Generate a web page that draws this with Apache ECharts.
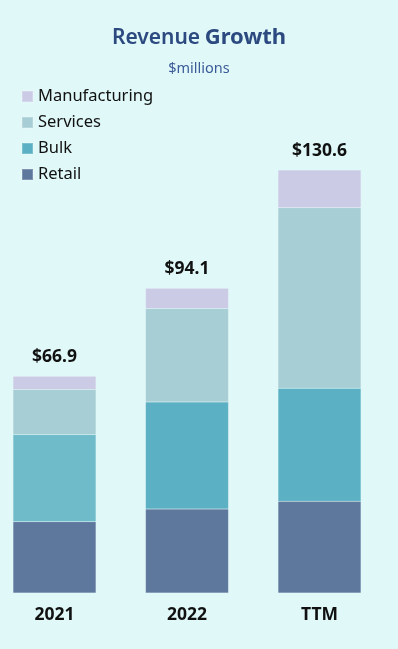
<!DOCTYPE html>
<html>
<head>
<meta charset="utf-8">
<script src="https://cdn.jsdelivr.net/npm/echarts@6/dist/echarts.min.js"></script>
<style>
  html, body { margin: 0; padding: 0; background: #e0f8f8; }
  #main { width: 398px; height: 649px; }
</style>
</head>
<body>
<div id="main"></div>
<script>
// data
const years = ["2021", "2022", "TTM"];
const retail = [22.0, 25.9, 28.3];
const bulk = [26.9, 33.1, 34.9];
const services = [13.9, 28.8, 55.7];
const manufacturing = [4.1, 6.3, 11.7];
const totals = [66.9, 94.1, 130.6];
const legendNames = ["Manufacturing", "Services", "Bulk", "Retail"];

const font = "Noto Sans";
let myChart = echarts.init(document.getElementById("main"));

const segBorder = { borderColor: "rgba(255,255,255,0.2)", borderWidth: 0.5 };

let option = {
  backgroundColor: "#e0f8f8",
  textStyle: { fontFamily: font },
  title: {
    text: "{a|Revenue} {b|Growth}",
    subtext: "$millions",
    left: "center",
    top: 22,
    itemGap: 12,
    textStyle: {
      rich: {
        a: { fontFamily: font, fontSize: 21, fontWeight: 600, color: "#2c4a80" },
        b: { fontFamily: font, fontSize: 22, fontWeight: "bold", color: "#2c4a80" },
      },
    },
    subtextStyle: { fontFamily: font, fontSize: 14.5, color: "#3b5b98" },
  },
  legend: {
    data: legendNames,
    orient: "vertical",
    left: 21,
    top: 88,
    padding: 0,
    itemWidth: 11,
    itemHeight: 11,
    itemGap: 9,
    icon: "rect",
    textStyle: { fontFamily: font, fontSize: 16.5, lineHeight: 16, color: "#111" },
  },
  grid: {
    left: 54.5,
    right: 78.5,
    top: 139.5,
    bottom: 56,
  },
  xAxis: {
    type: "category",
    data: years,
    boundaryGap: false,
    axisLine: { show: false },
    axisTick: { show: false },
    axisLabel: {
      margin: 13,
      fontFamily: font,
      fontSize: 17.5,
      fontWeight: "bold",
      color: "#111",
    },
  },
  yAxis: {
    type: "value",
    min: 0,
    max: 140,
    show: false,
    splitLine: { show: false },
  },
  series: [
    {
      name: "Retail",
      type: "bar",
      stack: "rev",
      barWidth: 83,
      clip: false,
      data: retail,
      itemStyle: Object.assign({ color: "#5e789d" }, segBorder),
    },
    {
      name: "Bulk",
      type: "bar",
      stack: "rev",
      clip: false,
      data: bulk.map((v, i) =>
        i === 0 ? { value: v, itemStyle: { color: "#6fbbc9" } } : v
      ),
      itemStyle: Object.assign({ color: "#5bb1c3" }, segBorder),
    },
    {
      name: "Services",
      type: "bar",
      stack: "rev",
      clip: false,
      data: services,
      itemStyle: Object.assign({ color: "#a7ced5" }, segBorder),
    },
    {
      name: "Manufacturing",
      type: "bar",
      stack: "rev",
      clip: false,
      data: manufacturing,
      itemStyle: Object.assign({ color: "#cbcbe6" }, segBorder),
      label: {
        show: true,
        position: "top",
        distance: 10,
        fontFamily: font,
        fontSize: 17.5,
        fontWeight: "bold",
        color: "#111",
        formatter: (p) => "$" + totals[p.dataIndex].toFixed(1),
      },
    },
  ],
};
myChart.setOption(option);
</script>
</body>
</html>
